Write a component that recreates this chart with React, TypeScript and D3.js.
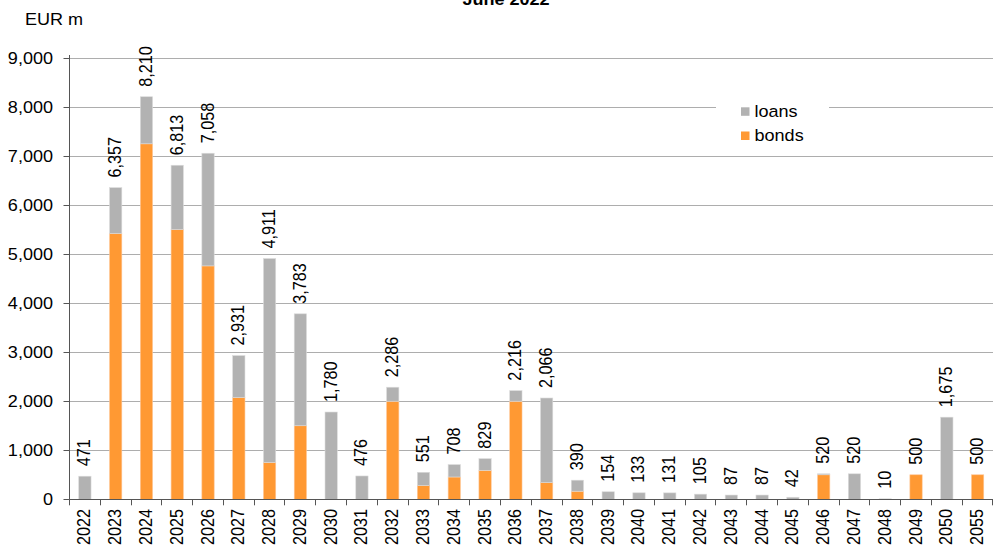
import React from "react";
import * as d3 from "d3";

const years = ["2022","2023","2024","2025","2026","2027","2028","2029","2030","2031","2032","2033","2034","2035","2036","2037","2038","2039","2040","2041","2042","2043","2044","2045","2046","2047","2048","2049","2050","2055"];
const bonds = [0,5420,7250,5500,4760,2075,750,1500,0,0,2000,280,455,590,2000,340,165,0,0,0,0,0,0,0,500,0,0,500,0,500];
const loans = [471,937,960,1313,2298,856,4161,2283,1780,476,286,271,253,239,216,1726,225,154,133,131,105,87,87,42,20,520,10,0,1675,0];
const yTicks = [0,1000,2000,3000,4000,5000,6000,7000,8000,9000];
const title = "June 2022";
const unitLabel = "EUR m";
const seriesNames = ["loans","bonds"];

const W = 993, H = 552;
const left = 69.5, right = 993, top = 58, bottom = 499.3;
const GRAY = "#b2b2b2", ORANGE = "#ff9933";
const FONT = "'Liberation Sans', Arial, sans-serif";
const SX = 1.29, SY = 1.16;

function T({ x, y, rot = false, anchor = "start", bold = false, children }: any) {
  return (
    <text
      transform={`translate(${x},${y}) scale(${SX},${SY})${rot ? " rotate(-90)" : ""}`}
      textAnchor={anchor}
      fontFamily={FONT}
      fontSize={14}
      fontWeight={bold ? "bold" : "normal"}
      fill="#000"
    >
      {children}
    </text>
  );
}

export default function App() {
  const x = d3.scaleBand<string>().domain(years).range([left, right]).paddingInner(0.6).paddingOuter(0.3);
  const y = d3.scaleLinear().domain([0, 9000]).range([bottom, top]);
  const step = x.step();
  const bw = x.bandwidth();
  const fmt = d3.format(",");
  const totals = years.map((_, i) => bonds[i] + loans[i]);
  const snap = (v: number) => Math.round(v) + 0.5;

  return (
    <svg width={W} height={H} style={{ position: "absolute", left: 0, top: 0, background: "#fff" }}>
      <rect x={0} y={0} width={W} height={H} fill="#fff" />
      <T x={506} y={5} anchor="middle" bold>{title}</T>
      <T x={25} y={25}>{unitLabel}</T>

      {yTicks.map((t) => (
        <g key={t}>
          {t > 0 && (
            <line x1={left} x2={right} y1={snap(y(t))} y2={snap(y(t))} stroke="#5a5a5a" strokeWidth={1} strokeDasharray="1,1" />
          )}
          <line x1={left - 6} x2={left} y1={snap(y(t))} y2={snap(y(t))} stroke="#555" />
          <T x={53} y={y(t) + 5.7} anchor="end">{fmt(t)}</T>
        </g>
      ))}

      {/* legend background */}
      <rect x={716} y={96} width={113} height={52} fill="#fff" />

      {years.map((yr, i) => {
        const cx = (x(yr) as number) + bw / 2;
        const x0 = x(yr) as number;
        const total = totals[i];
        return (
          <g key={yr}>
            {bonds[i] > 0 && (
              <rect x={x0} y={y(bonds[i])} width={bw} height={y(0) - y(bonds[i])} fill={ORANGE} stroke="#ffc89a" strokeWidth={0.6} />
            )}
            {loans[i] > 0 && (
              <rect x={x0} y={y(total)} width={bw} height={y(bonds[i]) - y(total)} fill={GRAY} stroke="#dcdcdc" strokeWidth={0.6} />
            )}
            <T x={cx + 5.5} y={y(total) - 10} rot>{fmt(total)}</T>
            <T x={cx + 5.5} y={509} rot anchor="end">{yr}</T>
          </g>
        );
      })}

      {/* x tick marks */}
      {years.map((yr, i) => {
        const xb = snap(left + i * step - 0.5);
        return <line key={"t" + yr} x1={xb} x2={xb} y1={bottom} y2={bottom + 6} stroke="#555" />;
      })}
      <line x1={right - 0.5} x2={right - 0.5} y1={bottom} y2={bottom + 6} stroke="#555" />

      <line x1={left} x2={left} y1={top - 3} y2={bottom} stroke="#555" />
      <line x1={left} x2={right} y1={snap(bottom - 0.5)} y2={snap(bottom - 0.5)} stroke="#555" />

      {/* legend */}
      <rect x={741} y={107.3} width={8.5} height={8.5} fill={GRAY} />
      <T x={754.5} y={116.5}>{seriesNames[0]}</T>
      <rect x={741} y={131.5} width={8.5} height={8.5} fill={ORANGE} />
      <T x={754.5} y={140.5}>{seriesNames[1]}</T>
    </svg>
  );
}
